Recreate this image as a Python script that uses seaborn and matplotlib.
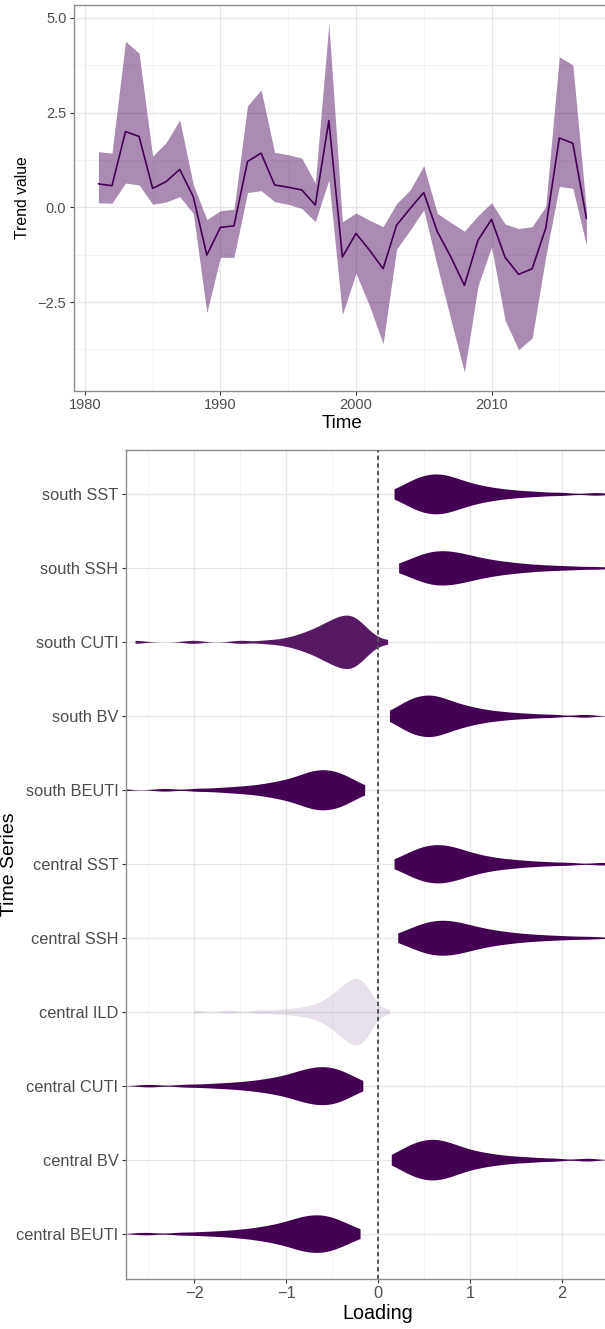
import matplotlib
matplotlib.use('Agg')
import matplotlib.pyplot as plt
import numpy as np
import pandas as pd
import seaborn as sns
from matplotlib.ticker import FixedLocator

# ---- top panel: trend estimate with its ribbon ----
years = list(range(1981, 2018))
trend_mean = [0.62, 0.57, 2.0, 1.87, 0.5, 0.68, 1.0, 0.28, -1.26, -0.53,
              -0.49, 1.21, 1.43, 0.59, 0.53, 0.46, 0.06, 2.29, -1.31, -0.69,
              -1.13, -1.62, -0.47, -0.03, 0.39, -0.64, -1.31, -2.06, -0.87, -0.32,
              -1.32, -1.77, -1.62, -0.55, 1.83, 1.69, -0.29]
trend_upper = [1.47, 1.43, 4.38, 4.07, 1.35, 1.71, 2.31, 0.6, -0.32, -0.09,
               -0.05, 2.68, 3.1, 1.45, 1.39, 1.3, 0.64, 4.85, -0.38, -0.15,
               -0.34, -0.51, 0.1, 0.46, 1.1, -0.16, -0.4, -0.63, -0.22, 0.12,
               -0.44, -0.56, -0.51, 0.02, 3.97, 3.76, -0.08]
trend_lower = [0.12, 0.11, 0.64, 0.59, 0.08, 0.14, 0.28, -0.16, -2.78, -1.32,
               -1.32, 0.39, 0.44, 0.15, 0.08, -0.03, -0.38, 0.72, -2.83, -1.74,
               -2.6, -3.6, -1.1, -0.6, -0.07, -1.55, -2.96, -4.35, -2.08, -1.04,
               -2.98, -3.76, -3.45, -1.3, 0.55, 0.5, -1.0]

# ---- bottom panel: loading draws (quantiles) ----
south_sst = [0.18, 0.23, 0.28, 0.32, 0.35, 0.37, 0.40, 0.42, 0.44, 0.46, 0.48, 0.50, 0.52,
             0.54, 0.55, 0.57, 0.59, 0.61, 0.62, 0.64, 0.66, 0.68, 0.69, 0.71, 0.73, 0.75,
             0.76, 0.78, 0.80, 0.82, 0.85, 0.87, 0.89, 0.92, 0.94, 0.97, 1.00, 1.04, 1.07,
             1.11, 1.15, 1.20, 1.25, 1.31, 1.38, 1.45, 1.55, 1.66, 1.80, 2.01, 2.38, 2.90]
south_ssh = [0.23, 0.29, 0.34, 0.38, 0.41, 0.44, 0.47, 0.49, 0.52, 0.54, 0.56, 0.58, 0.60,
             0.62, 0.64, 0.66, 0.68, 0.70, 0.72, 0.74, 0.76, 0.78, 0.80, 0.82, 0.84, 0.87,
             0.89, 0.91, 0.93, 0.96, 0.99, 1.01, 1.04, 1.07, 1.11, 1.14, 1.18, 1.22, 1.26,
             1.31, 1.36, 1.42, 1.48, 1.55, 1.63, 1.73, 1.84, 1.98, 2.15, 2.40, 2.84, 3.45]
south_cuti = [-2.64, -2.01, -1.49, -1.22, -1.06, -0.97, -0.90, -0.85, -0.81, -0.77, -0.74,
              -0.71, -0.68, -0.66, -0.63, -0.61, -0.59, -0.57, -0.55, -0.54, -0.52, -0.50,
              -0.49, -0.47, -0.46, -0.44, -0.43, -0.41, -0.40, -0.39, -0.37, -0.36, -0.35,
              -0.34, -0.32, -0.31, -0.30, -0.29, -0.28, -0.26, -0.25, -0.24, -0.22, -0.21,
              -0.19, -0.18, -0.16, -0.14, -0.11, -0.08, -0.04, 0.11]
south_bv = [0.13, 0.18, 0.22, 0.26, 0.29, 0.31, 0.33, 0.35, 0.37, 0.39, 0.41, 0.43, 0.45,
            0.46, 0.48, 0.50, 0.51, 0.53, 0.55, 0.56, 0.58, 0.60, 0.61, 0.63, 0.65, 0.66,
            0.68, 0.70, 0.72, 0.74, 0.76, 0.78, 0.81, 0.83, 0.86, 0.89, 0.92, 0.95, 0.98,
            1.02, 1.06, 1.11, 1.16, 1.22, 1.28, 1.36, 1.45, 1.56, 1.70, 1.90, 2.25, 2.76]
south_beuti = [-2.84, -2.32, -1.96, -1.75, -1.61, -1.50, -1.41, -1.33, -1.26, -1.21, -1.15,
               -1.11, -1.07, -1.03, -0.99, -0.96, -0.93, -0.90, -0.87, -0.85, -0.82, -0.80,
               -0.78, -0.76, -0.74, -0.72, -0.70, -0.69, -0.67, -0.65, -0.63, -0.62, -0.60,
               -0.58, -0.57, -0.55, -0.53, -0.51, -0.49, -0.48, -0.46, -0.44, -0.42, -0.40,
               -0.38, -0.36, -0.33, -0.31, -0.28, -0.24, -0.19, -0.14]
central_sst = [0.18, 0.23, 0.29, 0.32, 0.35, 0.38, 0.41, 0.43, 0.45, 0.47, 0.49, 0.51, 0.53,
               0.55, 0.57, 0.59, 0.61, 0.62, 0.64, 0.66, 0.68, 0.69, 0.71, 0.73, 0.75, 0.77,
               0.79, 0.81, 0.83, 0.85, 0.87, 0.89, 0.92, 0.94, 0.97, 1.00, 1.03, 1.07, 1.10,
               1.14, 1.19, 1.23, 1.29, 1.35, 1.42, 1.50, 1.59, 1.71, 1.86, 2.07, 2.45, 2.99]
central_ssh = [0.22, 0.28, 0.33, 0.37, 0.40, 0.43, 0.46, 0.48, 0.51, 0.53, 0.55, 0.57, 0.59,
               0.61, 0.63, 0.65, 0.67, 0.69, 0.71, 0.73, 0.75, 0.77, 0.79, 0.81, 0.83, 0.85,
               0.87, 0.89, 0.92, 0.94, 0.97, 0.99, 1.02, 1.05, 1.08, 1.12, 1.15, 1.19, 1.23,
               1.28, 1.33, 1.38, 1.44, 1.51, 1.59, 1.68, 1.79, 1.92, 2.09, 2.33, 2.76, 3.36]
central_ild = [-2.00, -1.62, -1.29, -1.10, -0.96, -0.86, -0.78, -0.72, -0.67, -0.63, -0.59,
               -0.56, -0.53, -0.51, -0.49, -0.47, -0.45, -0.43, -0.42, -0.40, -0.39, -0.37,
               -0.36, -0.35, -0.34, -0.33, -0.31, -0.30, -0.29, -0.28, -0.27, -0.26, -0.25,
               -0.24, -0.23, -0.22, -0.21, -0.20, -0.19, -0.18, -0.17, -0.16, -0.15, -0.14,
               -0.13, -0.12, -0.10, -0.09, -0.07, -0.05, -0.02, 0.13]
central_cuti = [-3.04, -2.49, -2.09, -1.87, -1.72, -1.60, -1.50, -1.42, -1.34, -1.28, -1.23,
                -1.17, -1.13, -1.09, -1.05, -1.01, -0.98, -0.95, -0.92, -0.89, -0.87, -0.84,
                -0.82, -0.80, -0.78, -0.76, -0.74, -0.72, -0.70, -0.68, -0.66, -0.64, -0.63,
                -0.61, -0.59, -0.57, -0.55, -0.54, -0.52, -0.50, -0.48, -0.46, -0.44, -0.42,
                -0.40, -0.38, -0.35, -0.33, -0.30, -0.26, -0.21, -0.16]
central_bv = [0.15, 0.20, 0.25, 0.28, 0.31, 0.34, 0.36, 0.38, 0.40, 0.42, 0.44, 0.46, 0.48,
              0.50, 0.51, 0.53, 0.55, 0.57, 0.58, 0.60, 0.62, 0.63, 0.65, 0.67, 0.68, 0.70,
              0.72, 0.74, 0.76, 0.78, 0.80, 0.82, 0.84, 0.87, 0.89, 0.92, 0.95, 0.98, 1.02,
              1.05, 1.10, 1.14, 1.19, 1.25, 1.31, 1.39, 1.48, 1.59, 1.72, 1.92, 2.28, 2.79]
central_beuti = [-3.09, -2.53, -2.14, -1.92, -1.77, -1.64, -1.55, -1.46, -1.39, -1.33, -1.27,
                 -1.22, -1.18, -1.14, -1.10, -1.06, -1.03, -1.00, -0.97, -0.94, -0.92, -0.89,
                 -0.87, -0.85, -0.83, -0.81, -0.79, -0.77, -0.75, -0.73, -0.71, -0.70, -0.68,
                 -0.66, -0.64, -0.62, -0.60, -0.58, -0.57, -0.55, -0.53, -0.51, -0.49, -0.47,
                 -0.44, -0.42, -0.39, -0.37, -0.33, -0.30, -0.24, -0.19]

series_names = ['south SST', 'south SSH', 'south CUTI', 'south BV', 'south BEUTI',
                'central SST', 'central SSH', 'central ILD', 'central CUTI',
                'central BV', 'central BEUTI']
# fill opacity of each violin (faded when the sign is uncertain)
series_alpha = [1.0, 1.0, 0.9, 1.0, 1.0, 1.0, 1.0, 0.12, 1.0, 1.0, 1.0]
draws = [south_sst, south_ssh, south_cuti, south_bv, south_beuti, central_sst,
         central_ssh, central_ild, central_cuti, central_bv, central_beuti]

# long table for seaborn
rows = []
for name, vals in zip(series_names, draws):
    for v in vals:
        rows.append((name, v))
df = pd.DataFrame(rows, columns=['series', 'loading'])

# style
sns.set_style("whitegrid")
plt.rcParams['font.family'] = ['Liberation Sans', 'DejaVu Sans']

dark = '#440154'
grid_major = '#e6e6e6'
grid_minor = '#f1f1f1'
border = '#8c8c8c'
tick_col = '#4d4d4d'

fig = plt.figure(figsize=(6.05, 13.29), dpi=100)
W, H = 605.0, 1329.0


def style_axes(ax, tick_size):
    for s in ax.spines.values():
        s.set_visible(True)
        s.set_color(border)
        s.set_linewidth(1.0)
    ax.tick_params(axis='both', which='major', length=3, width=0.8, color='#333333',
                   labelcolor=tick_col, labelsize=tick_size, pad=2.5,
                   bottom=True, left=True)
    ax.tick_params(axis='both', which='minor', length=0)
    ax.grid(True, which='major', color=grid_major, linewidth=0.9)
    ax.grid(True, which='minor', color=grid_minor, linewidth=0.6)
    ax.set_axisbelow(True)


# top panel
ax1 = fig.add_axes([74 / W, 1 - 390.7 / H, 536.8 / W, 385.7 / H])
ax1.fill_between(years, trend_lower, trend_upper, color=dark, alpha=0.45, linewidth=0)
sns.lineplot(x=years, y=trend_mean, color=dark, linewidth=1.2, ax=ax1)
ax1.set_xlim(1979.2, 2018.8)
ax1.set_ylim(-4.84, 5.34)
ax1.xaxis.set_major_locator(FixedLocator([1980, 1990, 2000, 2010]))
ax1.xaxis.set_minor_locator(FixedLocator([1985, 1995, 2005, 2015]))
ax1.yaxis.set_major_locator(FixedLocator([-2.5, 0.0, 2.5, 5.0]))
ax1.yaxis.set_minor_locator(FixedLocator([-3.75, -1.25, 1.25, 3.75]))
ax1.set_yticklabels(['\u22122.5', '0.0', '2.5', '5.0'])
style_axes(ax1, 10.5)
ax1.set_xlabel('Time', fontsize=13.5, color='black', labelpad=2)
ax1.set_ylabel('Trend value', fontsize=11.3, color='black')
ax1.yaxis.set_label_coords((30 - 74) / 536.8, 0.5)

# bottom panel
ax2 = fig.add_axes([126 / W, 1 - 1278.5 / H, 504 / W, 828.5 / H])
sns.violinplot(data=df, x='loading', y='series', order=series_names, color=dark,
               saturation=1, inner=None, cut=0, bw_adjust=0.45, gridsize=400,
               density_norm='area', width=0.9, linewidth=0, orient='h', ax=ax2)
# transparency per series, matched by the violin's row
for coll in ax2.collections:
    verts = np.concatenate([p.vertices for p in coll.get_paths()])
    idx = int(round(np.mean(verts[:, 1])))
    coll.set_alpha(series_alpha[idx])
    coll.set_edgecolor('none')

ax2.axvline(0, color='#555555', linewidth=1.4, linestyle=(0, (2.2, 1.7)), zorder=3)
ax2.set_xlim(-2.744, 2.744)
ax2.set_ylim(10.6, -0.6)
ax2.xaxis.set_major_locator(FixedLocator([-2, -1, 0, 1, 2]))
ax2.xaxis.set_minor_locator(FixedLocator([-2.5, -1.5, -0.5, 0.5, 1.5, 2.5]))
style_axes(ax2, 11.8)
ax2.grid(False, which='minor', axis='y')
ax2.set_xlabel('Loading', fontsize=14.2, color='black', labelpad=2)
ax2.set_ylabel('Time Series', fontsize=14, color='black')
ax2.yaxis.set_label_coords((18 - 126) / 504, 0.5)

fig.savefig('out.png', dpi=100)
